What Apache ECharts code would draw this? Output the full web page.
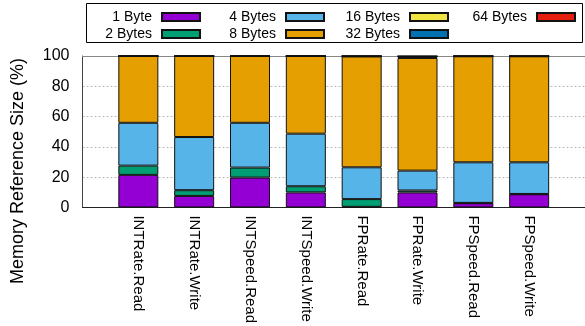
<!DOCTYPE html>
<html>
<head>
<meta charset="utf-8">
<script src="https://cdn.jsdelivr.net/npm/echarts@6/dist/echarts.min.js"></script>
<style>
  html, body { margin: 0; padding: 0; background: #fff; }
  #chart { width: 585px; height: 326px; }
</style>
</head>
<body>
<div id="chart"></div>
<script>
// Benchmark categories along the x axis
const categories = ['INTRate.Read', 'INTRate.Write', 'INTSpeed.Read', 'INTSpeed.Write',
                    'FPRate.Read', 'FPRate.Write', 'FPSpeed.Read', 'FPSpeed.Write'];

// Share of memory references (%) per access size
const byte1  = [21.5, 7.6, 19.7, 9.9, 0.4, 9.9, 2.8, 8.7];
const byte2  = [6.1, 3.8, 6.6, 4.1, 5.1, 1.3, 0.2, 0.2];
const byte4  = [28.3, 35.1, 29.6, 34.7, 21.0, 13.1, 26.8, 20.9];
const byte8  = [44.1, 53.5, 44.1, 51.3, 73.2, 74.4, 70.0, 70.0];
const byte16 = [0, 0, 0, 0, 0.2, 0.9, 0.1, 0.1];
const byte32 = [0, 0, 0, 0, 0.1, 0.3, 0.1, 0.1];
const byte64 = [0, 0, 0, 0, 0, 0, 0, 0];

const seriesNames = ['1 Byte', '2 Bytes', '4 Bytes', '8 Bytes', '16 Bytes', '32 Bytes', '64 Bytes'];
const seriesValues = [byte1, byte2, byte4, byte8, byte16, byte32, byte64];
const seriesColors = ['#9400D3', '#009E73', '#56B4E9', '#E69F00', '#F0E442', '#0072B2', '#E51E10'];

const yTicks = [0, 20, 40, 60, 80, 100];

const FONT = 'Liberation Sans, Arial, Helvetica, sans-serif';

// The x range runs one slot past each end (empty padding slots at both sides)
const axisSlots = [''].concat(categories, ['']);

const chart = echarts.init(document.getElementById('chart'), null, { renderer: 'canvas' });

const series = seriesNames.map((name, s) => ({
  name,
  type: 'bar',
  stack: 'total',
  barWidth: 40,
  itemStyle: { color: seriesColors[s], borderColor: '#111', borderWidth: 1 },
  data: seriesValues[s].map((v, i) => [categories[i], v])
}));

// Legend laid out in four columns of two rows, text right-aligned before each swatch
const legendCols = [
  { names: ['1 Byte', '2 Bytes'], right: 384 },
  { names: ['4 Bytes', '8 Bytes'], right: 260 },
  { names: ['16 Bytes', '32 Bytes'], right: 136 },
  { names: ['64 Bytes'], right: 9 }
];
const legends = legendCols.map(c => ({
  data: c.names,
  orient: 'vertical',
  align: 'right',
  right: c.right,
  top: 10,
  padding: 0,
  itemWidth: 38,
  itemHeight: 8,
  itemGap: 3,
  selectedMode: false,
  icon: 'rect',
  textStyle: { fontFamily: FONT, fontSize: 14, color: '#000', lineHeight: 14, padding: [0, 5, 0, 0] }
}));

chart.setOption({
  animation: false,
  backgroundColor: '#fff',
  grid: { left: 82.5, top: 56, width: 506.7, height: 152.3, containLabel: false },
  legend: legends,
  xAxis: [
    {
      type: 'category',
      data: axisSlots,
      boundaryGap: false,
      axisLine: { show: true, lineStyle: { color: '#222', width: 1 } },
      axisTick: { show: false },
      splitLine: { show: false },
      axisLabel: {
        interval: 0,
        rotate: -90,
        margin: 8,
        fontFamily: FONT,
        fontSize: 15,
        color: '#000'
      }
    },
    {
      type: 'value',
      position: 'top',
      min: 0,
      max: 1,
      axisLine: { show: true, onZero: false, lineStyle: { color: '#888', width: 1 } },
      axisTick: { show: false },
      axisLabel: { show: false },
      splitLine: { show: false }
    }
  ],
  yAxis: {
    type: 'value',
    min: yTicks[0],
    max: yTicks[yTicks.length - 1],
    interval: 20,
    axisLine: { show: true, onZero: false, lineStyle: { color: '#444', width: 1 } },
    axisTick: { show: false },
    axisLabel: { margin: 13, fontFamily: FONT, fontSize: 16, color: '#000' },
    splitLine: { show: true, lineStyle: { color: '#bbb', width: 1, type: [2, 2] } }
  },
  graphic: [
    {
      type: 'rect',
      shape: { x: 86.5, y: 3.5, width: 496, height: 39 },
      style: { fill: 'none', stroke: '#000', lineWidth: 1 },
      z: 1
    },
    {
      type: 'text',
      x: 18,
      y: 171,
      rotation: Math.PI / 2,
      style: {
        text: 'Memory Reference Size (%)',
        fontFamily: FONT,
        fontSize: 18,
        fill: '#000',
        align: 'center',
        verticalAlign: 'middle'
      }
    }
  ],
  series
});
</script>
</body>
</html>
